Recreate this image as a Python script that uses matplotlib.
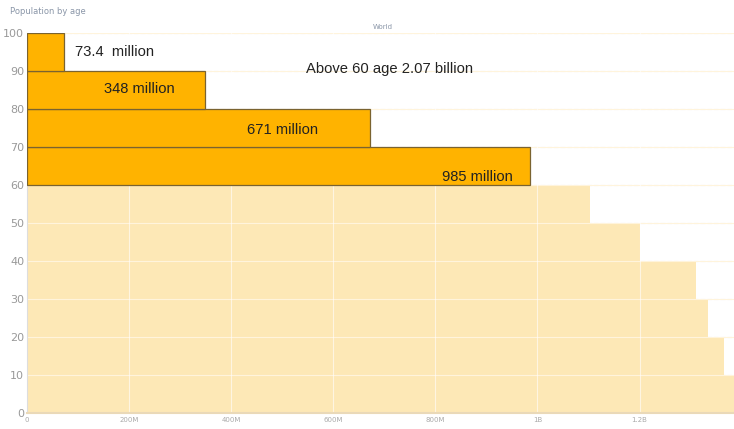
import numpy as np
import matplotlib.pyplot as plt

# age bands (lower edge) and population in millions
ages = [0, 10, 20, 30, 40, 50, 60, 70, 80, 90]
population = [1400, 1366, 1335, 1310, 1200, 1102, 985, 671, 348, 73.4]
band_labels = ['73.4  million', '348 million', '671 million', '985 million']
x_ticks = [0, 200, 400, 600, 800, 1000, 1200]
x_tick_labels = ['0', '200M', '400M', '600M', '800M', '1B', '1.2B']
y_ticks = [0, 10, 20, 30, 40, 50, 60, 70, 80, 90, 100]

fig = plt.figure(figsize=(7.34, 4.29), dpi=100)
ax = fig.add_axes([27 / 734, 16 / 429, 707 / 734, 380 / 429])

light = '#FDE8B6'
dark = '#FFB300'
for a, p in zip(ages, population):
    if a >= 60:
        ax.barh(a, p, height=10, align='edge', color=dark, edgecolor='#7a6330', linewidth=0.9, zorder=3)
    else:
        ax.barh(a, p, height=10, align='edge', color=light, edgecolor='none', zorder=1)

ax.set_xlim(0, 1385)
ax.set_ylim(0, 100)

# grid: dashed light lines on white, faint white lines over the pale bars
for y in y_ticks[1:]:
    ax.axhline(y, color='#e4e4e4', linestyle=(0, (4, 2)), linewidth=0.8, zorder=0)
    ax.axhline(y, color='#fff4dc', linewidth=0.8, zorder=2)
for x in x_ticks[1:]:
    ax.axvline(x, color='#ffffff', linewidth=0.8, alpha=0.6, zorder=2)

ax.set_xticks(x_ticks)
ax.set_xticklabels(x_tick_labels)
ax.set_yticks(y_ticks)
ax.tick_params(axis='x', length=0, labelsize=5, colors='#aaaaaa', pad=3)
ax.tick_params(axis='y', length=0, labelsize=8, colors='#999999', pad=2)

for s in ['top', 'right']:
    ax.spines[s].set_visible(False)
ax.spines['left'].set_color('#dddddd')
ax.spines['bottom'].set_color('#ead9b8')
ax.spines['bottom'].set_linewidth(1.5)

# annotations
font = dict(fontsize=10.6, color='#222222', va='center', zorder=5, family='Liberation Sans')
ax.text(94, 95, band_labels[0], **font)
ax.text(150, 85.3, band_labels[1], **font)
ax.text(430, 74.5, band_labels[2], **font)
ax.text(812, 62.2, band_labels[3], **font)
ax.text(546, 90.5, 'Above 60 age 2.07 billion', **font)

fig.text(10 / 734, 1 - 12 / 429, 'Population by age', fontsize=6, color='#8a96a8', va='center')
fig.text(383 / 734, 1 - 27 / 429, 'World', fontsize=5, color='#8a96a8', va='center', ha='center')

fig.savefig('out.png', dpi=100)
